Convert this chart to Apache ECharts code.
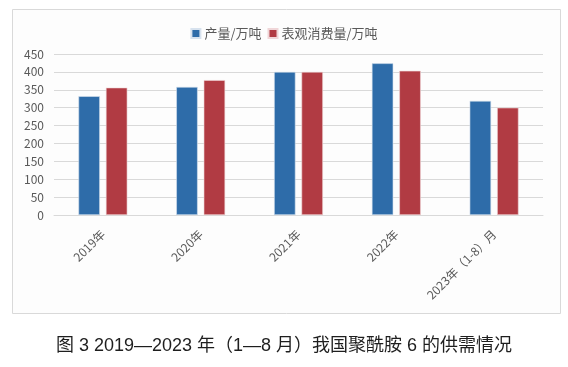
<!DOCTYPE html>
<html><head><meta charset="utf-8">
<script src="https://cdn.jsdelivr.net/npm/echarts@6/dist/echarts.min.js"></script>
<style>html,body{margin:0;padding:0;background:#fff}#c{width:568px;height:367px}</style>
</head><body><div id="c"></div>
<script>
var categories = ['2019年', '2020年', '2021年', '2022年', '2023年（1-8）月'];
var production = [332, 358, 400, 424, 319];
var consumption = [356, 377, 400, 403, 300];
var yTicks = [0, 50, 100, 150, 200, 250, 300, 350, 400, 450];
var seriesNames = ['产量/万吨', '表观消费量/万吨'];
var caption = '图 3 2019—2023 年（1—8 月）我国聚酰胺 6 的供需情况';

var chart = echarts.init(document.getElementById('c'), null, {renderer: 'canvas'});
var font = '"Noto Sans CJK SC", "Noto Sans", sans-serif';
chart.setOption({
  animation: false,
  backgroundColor: '#fff',
  graphic: [{
    type: 'rect', left: 12, top: 9, z: -10,
    shape: {width: 548, height: 304},
    style: {fill: '#fdfdfd', stroke: '#d9d9d9', lineWidth: 1}
  }],
  title: {
    text: caption, left: 'center', top: 332,
    textStyle: {fontFamily: '"Liberation Sans", "Noto Sans CJK SC", sans-serif', fontSize: 18, fontWeight: 'normal', color: '#1e1e1e'}
  },
  legend: {
    data: seriesNames, top: 22, left: 'center',
    itemWidth: 9, itemHeight: 9, itemGap: 6, icon: 'rect',
    textStyle: {fontFamily: font, fontSize: 13, color: '#595959', padding: [0, 0, 0, -1]}
  },
  grid: {left: 54, right: 25, top: 54, bottom: 152, containLabel: false},
  xAxis: {
    type: 'category', data: categories,
    axisLine: {show: true, lineStyle: {color: '#d9d9d9'}},
    axisTick: {show: false},
    axisLabel: {rotate: 45, margin: 17, interval: 0, fontFamily: font, fontSize: 12, color: '#595959'}
  },
  yAxis: {
    type: 'value', min: yTicks[0], max: yTicks[yTicks.length - 1], interval: 50,
    axisLine: {show: false}, axisTick: {show: false},
    splitLine: {lineStyle: {color: '#d9d9d9'}},
    axisLabel: {margin: 10, fontFamily: font, fontSize: 12, color: '#595959'}
  },
  series: [
    {name: seriesNames[0], type: 'bar', data: production, barGap: '28%', barCategoryGap: '50%',
     itemStyle: {color: '#2e6ca9', borderColor: '#d7e2ee', borderWidth: 0.6}},
    {name: seriesNames[1], type: 'bar', data: consumption,
     itemStyle: {color: '#b13b43', borderColor: '#f0d6d8', borderWidth: 0.6}}
  ]
});
</script></body></html>
